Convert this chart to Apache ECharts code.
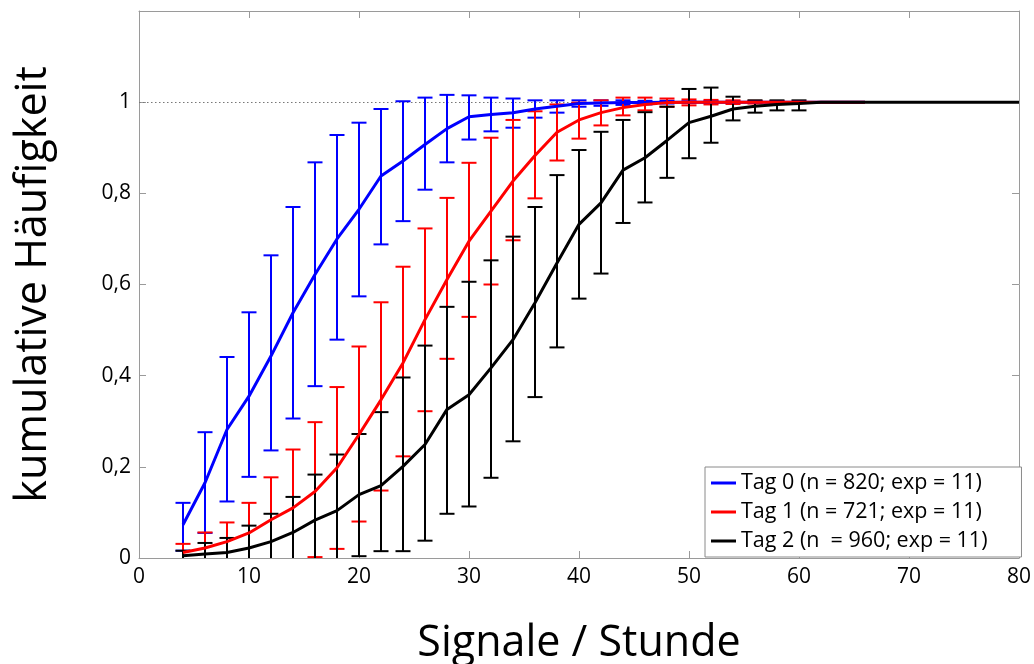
<!DOCTYPE html>
<html>
<head>
<meta charset="utf-8">
<script src="https://cdn.jsdelivr.net/npm/echarts@6/dist/echarts.min.js"></script>
<style>
html,body{margin:0;padding:0;background:#fff;}
#chart{width:1034px;height:664px;}
</style>
</head>
<body>
<div id="chart"></div>
<script>
// ---- Data ----
const seriesNames = ['Tag 0 (n = 820; exp = 11)', 'Tag 1 (n = 721; exp = 11)', 'Tag 2 (n  = 960; exp = 11)'];
const seriesColors = ['#0000ff', '#ff0000', '#000000'];

const xTag0 = [4,6,8,10,12,14,16,18,20,22,24,26,28,30,32,34,36,38,40,42,44,46,48,50,52,54,56,58,60,62,64,66];
const meanTag0 = [0.073,0.165,0.282,0.355,0.443,0.538,0.622,0.700,0.765,0.838,0.871,0.907,0.942,0.968,0.973,0.977,0.985,0.991,0.997,0.998,0.999,0.999,1,1,1,1,1,1,1,1,1,1];
const highTag0 = [0.121,0.276,0.441,0.539,0.664,0.770,0.868,0.928,0.955,0.985,1.002,1.010,1.016,1.015,1.010,1.008,1.004,1.004,1.004,1.004,1.004,1.003,1.003,1.002,1.002,1.001,1.001,1.001,1,1,1,1];
const lowTag0  = [0.016,0.055,0.124,0.178,0.236,0.306,0.377,0.479,0.574,0.688,0.739,0.808,0.868,0.918,0.936,0.944,0.966,0.977,0.990,0.992,0.994,0.995,0.997,0.998,0.998,0.999,0.999,0.999,1,1,1,1];

const xTag1 = [4,6,8,10,12,14,16,18,20,22,24,26,28,30,32,34,36,38,40,42,44,46,48,50,52,54,56,58,60,62,64,66];
const meanTag1 = [0.012,0.022,0.036,0.055,0.084,0.110,0.146,0.198,0.271,0.347,0.428,0.523,0.611,0.695,0.761,0.827,0.883,0.934,0.961,0.977,0.988,0.995,0.999,1,1,1,1,1,1,1,1,1];
const highTag1 = [0.031,0.056,0.078,0.121,0.177,0.238,0.298,0.375,0.464,0.561,0.639,0.723,0.790,0.867,0.922,0.961,0.980,0.995,0.999,1.004,1.010,1.010,1.008,1.006,1.005,1.004,1.003,1.002,1.001,1,1,1];
const lowTag1  = [-0.007,-0.012,-0.006,-0.011,-0.009,-0.018,0.002,0.020,0.080,0.148,0.223,0.322,0.437,0.529,0.600,0.697,0.789,0.872,0.920,0.949,0.971,0.982,0.990,0.993,0.995,0.996,0.997,0.998,0.999,1,1,1];

const xTag2 = [4,6,8,10,12,14,16,18,20,22,24,26,28,30,32,34,36,38,40,42,44,46,48,50,52,54,56,58,60,62,64,66,68,70,72,74,76,78,80];
const meanTag2 = [0.005,0.009,0.012,0.022,0.036,0.056,0.083,0.104,0.139,0.159,0.201,0.249,0.326,0.358,0.417,0.479,0.560,0.647,0.732,0.779,0.851,0.878,0.916,0.955,0.969,0.985,0.991,0.995,0.997,1,1,1,1,1,1,1,1,1,1];
const highTag2 = [0.016,0.033,0.044,0.071,0.097,0.134,0.183,0.227,0.272,0.320,0.396,0.466,0.551,0.606,0.653,0.705,0.770,0.840,0.895,0.935,0.961,0.978,0.990,1.029,1.032,1.012,1.004,1.004,1.004,1,1,1,1,1,1,1,1,1,1];
const lowTag2  = [-0.006,-0.015,-0.020,-0.027,-0.025,-0.022,-0.017,-0.019,0.004,0.015,0.015,0.038,0.097,0.113,0.176,0.256,0.353,0.462,0.569,0.624,0.735,0.780,0.834,0.877,0.911,0.960,0.977,0.982,0.982,1,1,1,1,1,1,1,1,1,1];

const xTicks = [0,10,20,30,40,50,60,70,80];
const yTicks = [0,0.2,0.4,0.6,0.8,1];

const xTitle = 'Signale / Stunde';
const yTitle = 'kumulative Häufigkeit';

// ---- Build ----
const FONT = '"Open Sans", sans-serif';
const groups = [
  {x: xTag0, m: meanTag0, lo: lowTag0, hi: highTag0},
  {x: xTag1, m: meanTag1, lo: lowTag1, hi: highTag1},
  {x: xTag2, m: meanTag2, lo: lowTag2, hi: highTag2}
];

function errSeries(g, color) {
  const data = g.x.map((x, i) => [x, g.lo[i], g.hi[i]]);
  return {
    type: 'custom',
    xAxisIndex: 0, yAxisIndex: 0,
    clip: true,
    silent: true,
    data: data,
    renderItem: function (params, api) {
      const x = api.value(0), lo = api.value(1), hi = api.value(2);
      if (Math.abs(hi - lo) < 1e-9) return null;
      const a = api.coord([x, lo]);
      const b = api.coord([x, hi]);
      const hw = 7.5;
      const st = {stroke: color, lineWidth: 2};
      return {
        type: 'group',
        children: [
          {type: 'line', shape: {x1: a[0], y1: a[1], x2: b[0], y2: b[1]}, style: st},
          {type: 'line', shape: {x1: a[0] - hw, y1: a[1], x2: a[0] + hw, y2: a[1]}, style: st},
          {type: 'line', shape: {x1: b[0] - hw, y1: b[1], x2: b[0] + hw, y2: b[1]}, style: st}
        ]
      };
    }
  };
}

function lineSeries(g, name, color, extra) {
  return Object.assign({
    type: 'line',
    name: name,
    xAxisIndex: 0, yAxisIndex: 0,
    data: g.x.map((x, i) => [x, g.m[i]]),
    showSymbol: false,
    symbol: 'none',
    smooth: false,
    lineStyle: {color: color, width: 3},
    itemStyle: {color: color},
    silent: true,
    animation: false
  }, extra || {});
}

const series = [];
groups.forEach((g, k) => {
  series.push(errSeries(g, seriesColors[k]));
  const extra = k === 0 ? {
    markLine: {
      silent: true,
      symbol: ['none', 'none'],
      label: {show: false},
      lineStyle: {color: '#777', type: [1.5, 2.5], width: 1},
      data: [{yAxis: 1}],
      z: 1
    }
  } : {};
  series.push(lineSeries(g, seriesNames[k], seriesColors[k], extra));
});

function yFmt(v) {
  if (Math.abs(v) < 1e-9) return '0';
  if (Math.abs(v - 1) < 1e-9) return '1';
  if (v > 1.05) return '';
  return v.toFixed(1).replace('.', ',');
}

const axisGray = '#9a9a9a';
const option = {
  animation: false,
  backgroundColor: '#ffffff',
  textStyle: {fontFamily: FONT},
  grid: {left: 139, right: 15, top: 11, bottom: 106, containLabel: false, outerBoundsMode: 'none'},
  xAxis: [
    {
      type: 'value', min: xTicks[0], max: xTicks[xTicks.length - 1], interval: 10,
      position: 'bottom',
      name: xTitle, nameLocation: 'middle', nameGap: 64,
      nameTextStyle: {fontFamily: FONT, fontSize: 43, color: '#000'},
      axisLine: {show: true, lineStyle: {color: axisGray, width: 1}},
      axisTick: {show: true, inside: true, length: 7, lineStyle: {color: axisGray}},
      axisLabel: {show: true, margin: 9, fontFamily: FONT, fontSize: 21, color: '#000'},
      splitLine: {show: false}
    },
    {
      type: 'value', min: xTicks[0], max: xTicks[xTicks.length - 1], interval: 10,
      position: 'top',
      axisLine: {show: true, onZero: false, lineStyle: {color: axisGray, width: 1}},
      axisTick: {show: true, inside: true, length: 7, lineStyle: {color: axisGray}},
      axisLabel: {show: false},
      splitLine: {show: false}
    }
  ],
  yAxis: [
    {
      type: 'value', min: 0, max: 1.2, interval: 0.2,
      position: 'left',
      name: yTitle, nameLocation: 'middle', nameGap: 84, nameRotate: 90,
      nameTextStyle: {fontFamily: FONT, fontSize: 43, color: '#000'},
      axisLine: {show: true, lineStyle: {color: axisGray, width: 1}},
      axisTick: {show: true, inside: true, length: 7, lineStyle: {color: axisGray}},
      axisLabel: {show: true, margin: 8, fontFamily: FONT, fontSize: 21, color: '#000', formatter: yFmt},
      splitLine: {show: false}
    },
    {
      type: 'value', min: 0, max: 1.2, interval: 0.2,
      position: 'right',
      axisLine: {show: true, onZero: false, lineStyle: {color: axisGray, width: 1}},
      axisTick: {show: true, inside: true, length: 7, lineStyle: {color: axisGray}},
      axisLabel: {show: false},
      splitLine: {show: false}
    }
  ],
  legend: {
    data: seriesNames,
    orient: 'vertical',
    left: 705, top: 467,
    padding: [5, 34, 5, 6],
    itemGap: 7,
    itemWidth: 25, itemHeight: 3,
    icon: 'rect',
    backgroundColor: '#fff',
    borderColor: '#8a8a8a', borderWidth: 1, borderRadius: 0,
    textStyle: {fontFamily: FONT, fontSize: 21.5, lineHeight: 21, color: '#000'},
    selectedMode: false
  },
  series: series
};

const chart = echarts.init(document.getElementById('chart'), null, {renderer: 'canvas'});
chart.setOption(option);
</script>
</body>
</html>
